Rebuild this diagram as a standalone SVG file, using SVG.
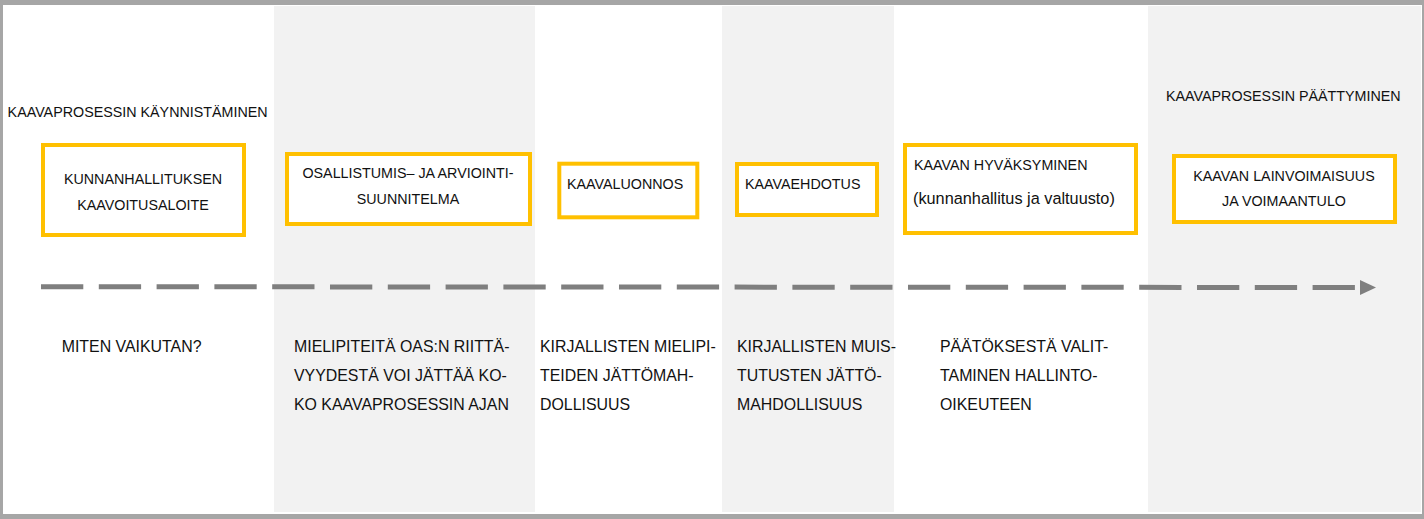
<svg xmlns="http://www.w3.org/2000/svg" width="1424" height="519" viewBox="0 0 1424 519">
<defs>
<style>
.band{fill:#f2f2f2}
.box{fill:#ffffff;stroke:#ffc000;stroke-width:4}
.t{font-family:"Liberation Sans",Arial,sans-serif;font-size:14.3px;fill:#111111}
.b{font-family:"Liberation Sans",Arial,sans-serif;font-size:15.9px;fill:#111111}
.c{text-anchor:middle}
.dash{stroke:#7f7f7f;stroke-width:5;stroke-dasharray:42.3 15.5;fill:none}
</style>
</defs>
<rect x="0" y="0" width="1424" height="519" fill="#a6a6a6"/>
<rect x="3" y="5" width="1419" height="509" fill="#ffffff"/>
<g id="bands">
<rect class="band" x="274" y="6" width="261" height="506"/>
<rect class="band" x="722" y="6" width="172" height="506"/>
<rect class="band" x="1148" y="6" width="273" height="506"/>
</g>
<g id="connectors">
<line class="dash" x1="41" y1="286.7" x2="1355" y2="287.5"/>
<polygon points="1360,280 1376,287.5 1360,295" fill="#7f7f7f"/>
</g>
<g id="heading-start"><text class="t" x="7.6" y="117">KAAVAPROSESSIN KÄYNNISTÄMINEN</text></g>
<g id="heading-end"><text class="t" x="1166" y="101">KAAVAPROSESSIN PÄÄTTYMINEN</text></g>
<g id="node1">
<rect class="box" x="43" y="145" width="201" height="90"/>
<text class="t c" x="143" y="184">KUNNANHALLITUKSEN</text>
<text class="t c" x="143" y="210">KAAVOITUSALOITE</text>
</g>
<g id="node2">
<rect class="box" x="287" y="154" width="243" height="70"/>
<text class="t c" x="408" y="178">OSALLISTUMIS– JA ARVIOINTI-</text>
<text class="t c" x="408" y="204">SUUNNITELMA</text>
</g>
<g id="node3">
<rect class="box" x="559.3" y="163.7" width="138" height="53.6"/>
<text class="t" x="567" y="189">KAAVALUONNOS</text>
</g>
<g id="node4">
<rect class="box" x="737" y="164" width="140" height="51"/>
<text class="t" x="745" y="189">KAAVAEHDOTUS</text>
</g>
<g id="node5">
<rect class="box" x="905" y="145" width="231" height="88"/>
<text class="t" x="914" y="170">KAAVAN HYVÄKSYMINEN</text>
<text class="t" x="913" y="204" style="font-size:16.3px">(kunnanhallitus ja valtuusto)</text>
</g>
<g id="node6">
<rect class="box" x="1174" y="156" width="221" height="66"/>
<text class="t c" x="1284" y="181">KAAVAN LAINVOIMAISUUS</text>
<text class="t c" x="1284" y="206">JA VOIMAANTULO</text>
</g>
<g id="note1"><text class="b" x="61.7" y="352">MITEN VAIKUTAN?</text></g>
<g id="note2">
<text class="b" x="294" y="352">MIELIPITEITÄ OAS:N RIITTÄ-</text>
<text class="b" x="294" y="381">VYYDESTÄ VOI JÄTTÄÄ KO-</text>
<text class="b" x="294" y="410">KO KAAVAPROSESSIN AJAN</text>
</g>
<g id="note3">
<text class="b" x="540" y="352">KIRJALLISTEN MIELIPI-</text>
<text class="b" x="540" y="381">TEIDEN JÄTTÖMAH-</text>
<text class="b" x="540" y="410">DOLLISUUS</text>
</g>
<g id="note4">
<text class="b" x="737" y="352">KIRJALLISTEN MUIS-</text>
<text class="b" x="737" y="381">TUTUSTEN JÄTTÖ-</text>
<text class="b" x="737" y="410">MAHDOLLISUUS</text>
</g>
<g id="note5">
<text class="b" x="940" y="352">PÄÄTÖKSESTÄ VALIT-</text>
<text class="b" x="940" y="381">TAMINEN HALLINTO-</text>
<text class="b" x="940" y="410">OIKEUTEEN</text>
</g>
</svg>
